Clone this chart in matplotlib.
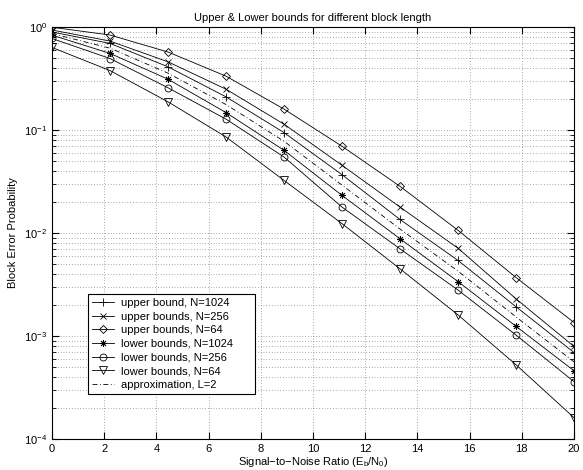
import numpy as np
import matplotlib
matplotlib.use("Agg")
import matplotlib.pyplot as plt
from matplotlib.ticker import LogLocator, NullFormatter

plt.rcParams['font.family'] = ['Liberation Sans', 'DejaVu Sans']
plt.rcParams['mathtext.default'] = 'regular'

# SNR points (Eb/N0 in dB)
snr = np.linspace(0, 20, 10)

upper_1024 = [0.89, 0.69, 0.409, 0.209, 0.094, 0.0367, 0.0135, 0.0054, 0.00192, 0.00069]
upper_256 = [0.93, 0.727, 0.457, 0.248, 0.1135, 0.0453, 0.0178, 0.0071, 0.00229, 0.00079]
upper_64 = [0.99, 0.832, 0.569, 0.332, 0.159, 0.0693, 0.0283, 0.0106, 0.00369, 0.00135]
lower_1024 = [0.83, 0.552, 0.31, 0.147, 0.0633, 0.0231, 0.00877, 0.00337, 0.00124, 0.000459]
lower_256 = [0.77, 0.492, 0.256, 0.127, 0.0545, 0.0178, 0.0070, 0.00279, 0.00102, 0.00036]
lower_64 = [0.63, 0.376, 0.187, 0.0853, 0.0323, 0.0123, 0.00448, 0.0016, 0.000525, 0.000161]
approx_L2 = [0.86, 0.62, 0.355, 0.176, 0.0775, 0.0291, 0.0109, 0.00425, 0.00153, 0.00056]

labels = ['upper bound, N=1024', 'upper bounds, N=256', 'upper bounds, N=64',
          'lower bounds, N=1024', 'lower bounds, N=256', 'lower bounds, N=64',
          'approximation, L=2']

fig = plt.figure(figsize=(5.83, 4.70), dpi=100)
ax = fig.add_axes([0.0892, 0.066, 0.8954, 0.877])

kw = dict(color='k', lw=0.6, mfc='none', mec='k', mew=0.6)
ax.semilogy(snr, upper_1024, marker='+', ms=6, label=labels[0], **kw)
ax.semilogy(snr, upper_256, marker='x', ms=4.5, label=labels[1], **kw)
ax.semilogy(snr, upper_64, marker='D', ms=4.5, label=labels[2], **kw)
ax.semilogy(snr, lower_1024, marker=(8, 2, 0), ms=5, label=labels[3], **kw)
ax.semilogy(snr, lower_256, marker='o', ms=5, label=labels[4], **kw)
ax.semilogy(snr, lower_64, marker='v', ms=6, label=labels[5], **kw)
ax.semilogy(snr, approx_L2, ls=(0, (6, 3, 1, 3)), color='k', lw=0.6, label=labels[6])

ax.set_xlim(0, 20)
ax.set_ylim(1e-4, 1)
ax.set_xticks(np.arange(0, 21, 2))
ax.yaxis.set_major_locator(LogLocator(base=10, numticks=10))
ax.yaxis.set_minor_locator(LogLocator(base=10, subs=np.arange(2, 10), numticks=20))
ax.yaxis.set_minor_formatter(NullFormatter())

grid_kw = dict(ls=(0, (1, 3)), color='0.35', lw=0.5)
ax.grid(True, which='major', **grid_kw)
ax.grid(True, which='minor', axis='y', **grid_kw)

ax.tick_params(which='both', direction='in', top=True, right=True, labelsize=8)
ax.tick_params(which='major', length=5)
ax.tick_params(which='minor', length=3)
for s in ax.spines.values():
    s.set_linewidth(0.8)

ax.set_title('Upper & Lower bounds for different block length', fontsize=8, pad=4)
ax.set_xlabel('Signal\u2212to\u2212Noise Ratio (E$_b$/N$_0$)', fontsize=8, labelpad=1)
ax.set_ylabel('Block Error Probability', fontsize=8)

leg = ax.legend(loc='lower left', bbox_to_anchor=(0.068, 0.109, 0.32, 0.235),
                mode='expand', borderaxespad=0, fontsize=8, fancybox=False,
                framealpha=1, edgecolor='k', handlelength=2, labelspacing=0.32,
                borderpad=0.4, handletextpad=0.6)
leg.get_frame().set_linewidth(0.8)

fig.savefig('out.png', dpi=100)
